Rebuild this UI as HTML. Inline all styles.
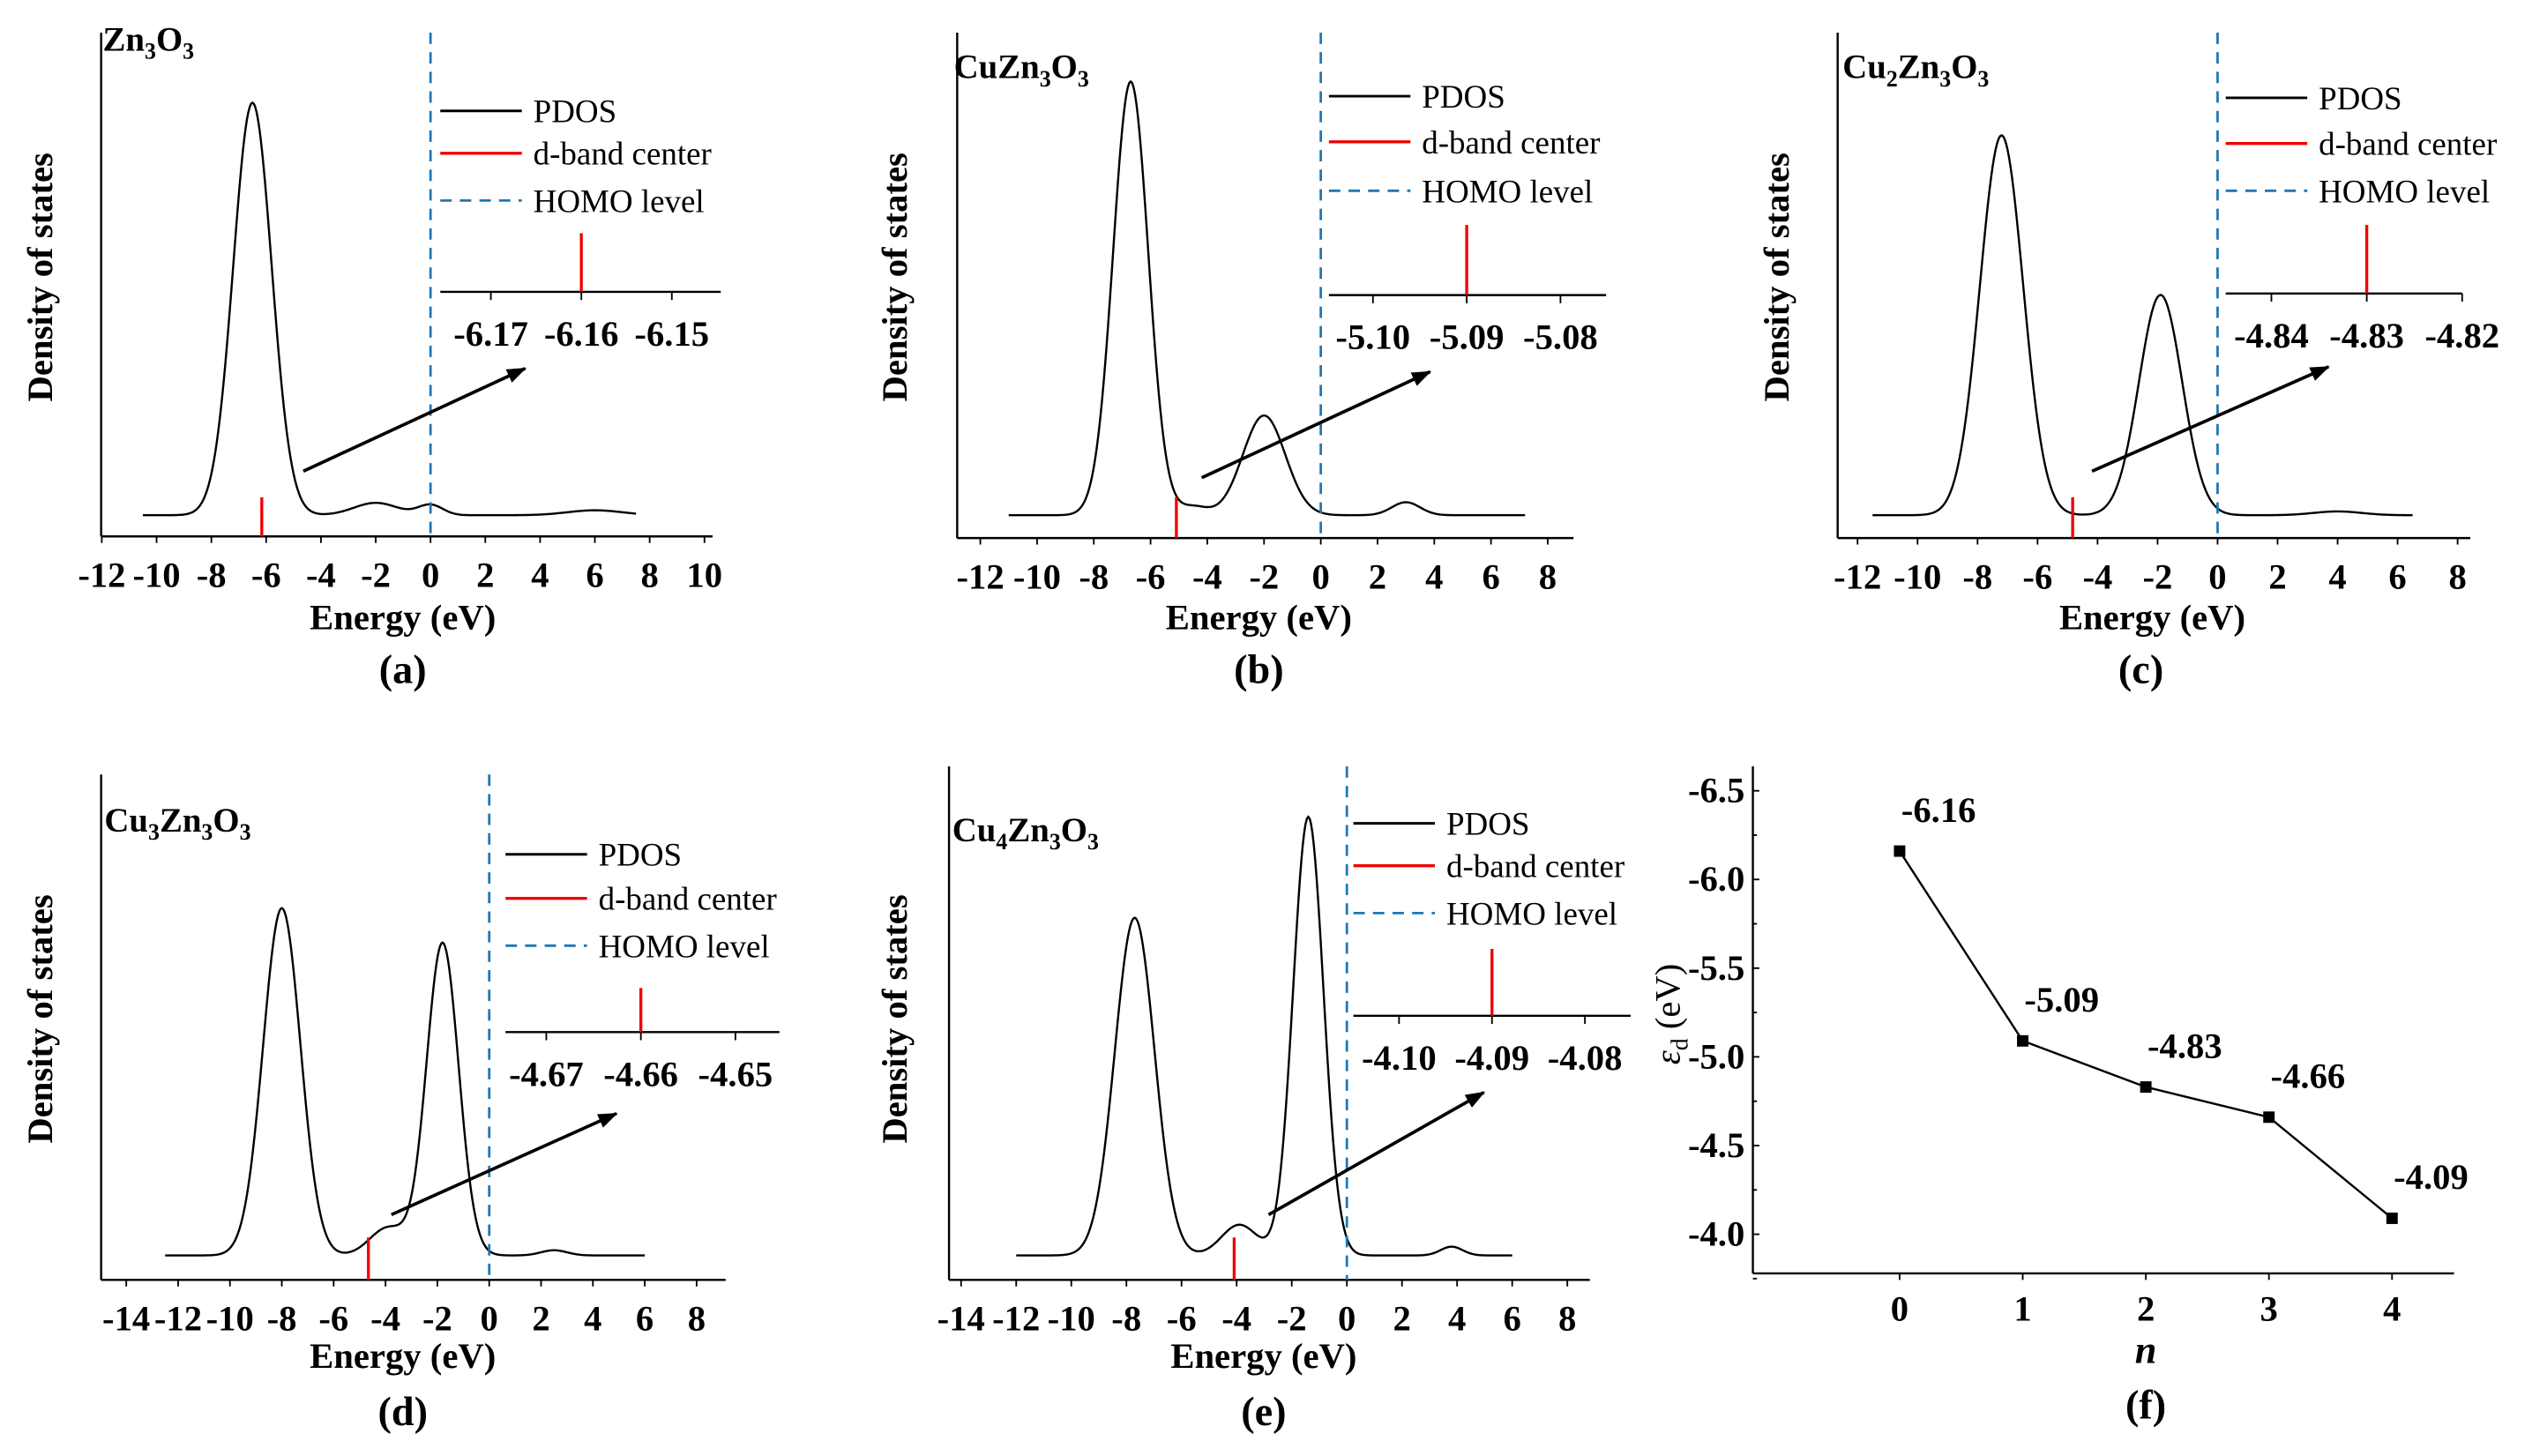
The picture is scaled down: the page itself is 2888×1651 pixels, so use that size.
<!DOCTYPE html>
<html><head><meta charset="utf-8"><style>
html,body{margin:0;padding:0;background:#fff}
svg{display:block}
text{font-family:"Liberation Serif",serif;fill:#000}
</style></head><body>
<svg id="fig" width="2888" height="1651" viewBox="0 0 1562 893" xmlns="http://www.w3.org/2000/svg">
<defs><marker id="ah" markerWidth="12" markerHeight="9" refX="11" refY="4.5" orient="auto" markerUnits="userSpaceOnUse"><path d="M0,0 L12,4.5 L0,9 z" fill="#000"/></marker></defs>
</svg>
<script>
// ---- data ----
const panelIds = ['a','b','c','d','e'];
const panelTitles = [['Zn','3','O','3'],['CuZn','3','O','3'],['Cu','2','Zn','3','O','3'],['Cu','3','Zn','3','O','3'],['Cu','4','Zn','3','O','3']];
const peaksA = [[-6.5,1.0,0.7],[-2,0.03,0.8],[0,0.025,0.45],[6,0.012,1]];
const peaksB = [[-6.7,1.0,0.62],[-2.0,0.23,0.75],[-4.5,0.02,0.5],[3,0.03,0.5]];
const peaksC = [[-7.2,1.0,0.72],[-1.9,0.58,0.72],[4,0.01,0.8]];
const peaksD = [[-8,1.0,0.72],[-1.8,0.9,0.62],[-3.9,0.08,0.7],[2.5,0.015,0.5]];
const peaksE = [[-7.7,0.77,0.72],[-1.4,1.0,0.55],[-3.9,0.07,0.65],[3.8,0.02,0.4]];
const curveRange = [[-10.5,7.5],[-11,7.2],[-11.5,6.5],[-12.5,6],[-12,6]];
const dCenter = [-6.16,-5.09,-4.83,-4.66,-4.09];
const ticksAB = [-12,-10,-8,-6,-4,-2,0,2,4,6,8,10];
const ticksB = [-12,-10,-8,-6,-4,-2,0,2,4,6,8];
const ticksDE = [-14,-12,-10,-8,-6,-4,-2,0,2,4,6,8];
const insetTicksA = [-6.17,-6.16,-6.15];
const insetTicksB = [-5.10,-5.09,-5.08];
const insetTicksC = [-4.84,-4.83,-4.82];
const insetTicksD = [-4.67,-4.66,-4.65];
const insetTicksE = [-4.10,-4.09,-4.08];
// panel (f)
const nVals = [0,1,2,3,4];
const edVals = [-6.16,-5.09,-4.83,-4.66,-4.09];
const edLabels = ['-6.16','-5.09','-4.83','-4.66','-4.09'];
const fYTicks = [-6.5,-6.0,-5.5,-5.0,-4.5,-4.0];

// ---- layout (not data) ----
const L = [
 {zero:264,unit:16.8,yax:62,right:437,top:20,xay:329,base:316,peak:253,ticks:ticksAB,peaks:peaksA,
  leg:[270,68,94,123],ins:{y:179,x0:270,x1:442,p0:301,step:55.5,top:143},insT:insetTicksA,arrow:[186,289,322,226],
  title:[63,31],ylab:[32,170],xl:[247,386],cap:[247,419]},
 {zero:810,unit:17.4,yax:587,right:965,top:20,xay:330,base:316,peak:266,ticks:ticksB,peaks:peaksB,
  leg:[815,59,87,117],ins:{y:181,x0:815,x1:985,p0:842,step:57.5,top:138},insT:insetTicksB,arrow:[737,293,877,228],
  title:[585,48],ylab:[556,170],xl:[772,386],cap:[772,419]},
 {zero:1360,unit:18.4,yax:1127,right:1515,top:20,xay:330,base:316,peak:233,ticks:ticksB,peaks:peaksC,
  leg:[1365,60,88,117],ins:{y:180,x0:1365,x1:1510,p0:1393,step:58.5,top:138},insT:insetTicksC,arrow:[1283,289,1428,225],
  title:[1130,48],ylab:[1097,170],xl:[1320,386],cap:[1313,419]},
 {zero:300,unit:15.9,yax:62,right:445,top:475,xay:785,base:770,peak:213,ticks:ticksDE,peaks:peaksD,
  leg:[310,524,551,580],ins:{y:633,x0:310,x1:478,p0:335,step:58,top:606},insT:insetTicksD,arrow:[240,745,378,683],
  title:[64,510],ylab:[32,625],xl:[247,839],cap:[247,874]},
 {zero:826,unit:16.9,yax:582,right:975,top:470,xay:785,base:770,peak:269,ticks:ticksDE,peaks:peaksE,
  leg:[830,505,531,560],ins:{y:623,x0:830,x1:1000,p0:858,step:57,top:582},insT:insetTicksE,arrow:[778,745,910,670],
  title:[584,516],ylab:[556,625],xl:[775,839],cap:[775,874]}
];
const svg = document.getElementById('fig');
const NS='http://www.w3.org/2000/svg';
function mk(tag,attrs,parent){const e=document.createElementNS(NS,tag);for(const k in attrs)e.setAttribute(k,attrs[k]);(parent||svg).appendChild(e);return e;}
function txt(s,x,y,size,anchor,bold,parent){const t=mk('text',{x:x,y:y,'font-size':size,'text-anchor':anchor||'middle'},parent);if(bold)t.setAttribute('font-weight','bold');t.textContent=s;return t;}

L.forEach((p,i)=>{
  const g=mk('g',{});
  
  
  const X=v=>p.zero+v*p.unit;
  const dos=v=>{let s=0;p.peaks.forEach(k=>{s+=k[1]*Math.exp(-0.5*Math.pow((v-k[0])/k[2],2));});return s;};
  const Y=d=>p.base-d*p.peak;
  const ya=mk('line',{x1:p.yax,y1:p.top,x2:p.yax,y2:p.xay,stroke:'#000','stroke-width':1.3},g);
  
  const xa=mk('line',{x1:p.yax,y1:p.xay,x2:p.right,y2:p.xay,stroke:'#000','stroke-width':1.3},g);
  
  p.ticks.forEach(t=>{
    mk('line',{x1:X(t),y1:p.xay,x2:X(t),y2:p.xay+4,stroke:'#000','stroke-width':1},g);
    const tl=txt(String(t),X(t),p.xay+31,22,'middle',true,g);
    
  });
  const r=curveRange[i];let d='';
  for(let v=r[0];v<=r[1]+1e-9;v+=0.05){d+=(d?'L':'M')+X(v).toFixed(2)+','+Y(dos(v)).toFixed(2);}
  const c=mk('path',{d:d,fill:'none',stroke:'#000','stroke-width':1.3},g);
  
  const rd=mk('line',{x1:X(dCenter[i]),y1:p.base-11,x2:X(dCenter[i]),y2:p.xay,stroke:'#e00','stroke-width':1.8},g);
  
  const h=mk('line',{x1:X(0),y1:p.top,x2:X(0),y2:p.xay,stroke:'#1f77b4','stroke-width':1.5,'stroke-dasharray':'7,5'},g);
  
  const lg=mk('g',{},g);
  const lx=p.leg[0];
  mk('line',{x1:lx,y1:p.leg[1],x2:lx+50,y2:p.leg[1],stroke:'#000','stroke-width':1.6},lg);
  txt('PDOS',lx+57,p.leg[1]+7,20,'start',false,lg);
  mk('line',{x1:lx,y1:p.leg[2],x2:lx+50,y2:p.leg[2],stroke:'#e00','stroke-width':1.8},lg);
  txt('d-band center',lx+57,p.leg[2]+7,20,'start',false,lg);
  mk('line',{x1:lx,y1:p.leg[3],x2:lx+50,y2:p.leg[3],stroke:'#1f77b4','stroke-width':1.5,'stroke-dasharray':'7,5'},lg);
  txt('HOMO level',lx+57,p.leg[3]+7,20,'start',false,lg);
  const ig=mk('g',{},g);
  const q=p.ins;const t0=p.insT[0],tstep=p.insT[1]-p.insT[0];
  const IX=v=>q.p0+(v-t0)/tstep*q.step;
  mk('line',{x1:q.x0,y1:q.y,x2:q.x1,y2:q.y,stroke:'#000','stroke-width':1.3},ig);
  p.insT.forEach(t=>{mk('line',{x1:IX(t),y1:q.y,x2:IX(t),y2:q.y+5,stroke:'#000','stroke-width':1},ig);
    txt(t.toFixed(2),IX(t),q.y+33,22,'middle',true,ig);});
  mk('line',{x1:IX(dCenter[i]),y1:q.top,x2:IX(dCenter[i]),y2:q.y,stroke:'#e00','stroke-width':1.8},ig);
  const a=p.arrow;
  const ar=mk('line',{x1:a[0],y1:a[1],x2:a[2],y2:a[3],stroke:'#000','stroke-width':2,'marker-end':'url(#ah)'},g);
  
  const tt=mk('text',{x:p.title[0],y:p.title[1],'font-size':21,'font-weight':'bold'},g);
  
  panelTitles[i].forEach((s,j)=>{const ts=mk('tspan',{},tt);ts.textContent=s;if(j%2===1){ts.setAttribute('font-size',14);ts.setAttribute('dy',5);}else if(j>0){ts.setAttribute('dy',-5);}});
  const yl=txt('Density of states',0,0,22,'middle',true,g);
  yl.setAttribute('transform','translate('+p.ylab[0]+','+p.ylab[1]+') rotate(-90)');
  
  const xl=txt('Energy (eV)',p.xl[0],p.xl[1],22,'middle',true,g);
  
  const cp=txt('('+panelIds[i]+')',p.cap[0],p.cap[1],25,'middle',true,g);
  
});

(function(){
  const g=mk('g',{});
  
  
  const yax=1075,top=470,xay=781,right=1505;
  const X=n=>1165+n*75.5;
  const Y=v=>485+(v+6.5)/0.5*54.4;
  const ya=mk('line',{x1:yax,y1:top,x2:yax,y2:xay,stroke:'#000','stroke-width':1.3},g);
  
  const xa=mk('line',{x1:yax,y1:xay,x2:right,y2:xay,stroke:'#000','stroke-width':1.3},g);
  
  fYTicks.forEach(t=>{mk('line',{x1:yax,y1:Y(t),x2:yax+4,y2:Y(t),stroke:'#000','stroke-width':1},g);
    mk('line',{x1:yax,y1:Y(t+0.25),x2:yax+2.5,y2:Y(t+0.25),stroke:'#000','stroke-width':1},g);
    const l=txt(t.toFixed(1),yax-5,Y(t)+7,22,'end',true,g);
    });
  nVals.forEach(n=>{mk('line',{x1:X(n),y1:xay,x2:X(n),y2:xay+4,stroke:'#000','stroke-width':1},g);
    const l=txt(String(n),X(n),xay+29,22,'middle',true,g);
    });
  let d='';nVals.forEach((n,i)=>{d+=(i?'L':'M')+X(n)+','+Y(edVals[i]);});
  const ln=mk('path',{d:d,fill:'none',stroke:'#000','stroke-width':1.3},g);
  
  nVals.forEach((n,i)=>{
    const m=mk('rect',{x:X(n)-3.5,y:Y(edVals[i])-3.5,width:7,height:7,fill:'#000'},g);
    
    const l=txt(edLabels[i],X(n)+1,Y(edVals[i])-18,22,'start',true,g);
    
  });
  const yl=mk('text',{'font-size':22,'text-anchor':'middle',transform:'translate(1030,622) rotate(-90)'},g);
  
  const e1=mk('tspan',{'font-style':'italic'},yl);e1.textContent='ε';
  const e2=mk('tspan',{'font-size':15,dy:5},yl);e2.textContent='d';
  const e3=mk('tspan',{dy:-5},yl);e3.textContent=' (eV)';
  const xl=txt('n',1316,836,24,'middle',true,g);xl.setAttribute('font-style','italic');
  
  const cp=txt('(f)',1316,870,25,'middle',true,g);
  
})();
</script>
</body></html>
